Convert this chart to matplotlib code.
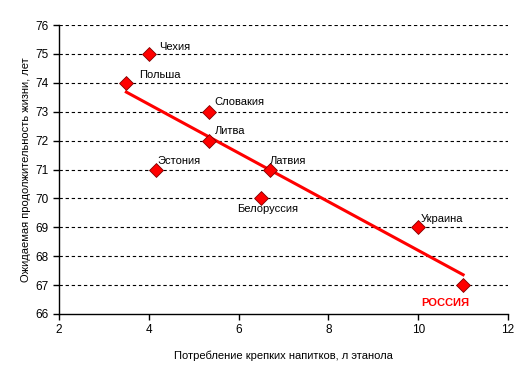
import matplotlib
matplotlib.use("Agg")
import matplotlib.pyplot as plt
import numpy as np

countries = ["Чехия", "Польша", "Словакия", "Литва", "Эстония", "Латвия", "Белоруссия", "Украина", "РОССИЯ"]
consumption = [4.0, 3.5, 5.35, 5.35, 4.15, 6.7, 6.5, 10.0, 11.0]
life_exp = [75, 74, 73, 72, 71, 71, 70, 69, 67]
xticks = [2, 4, 6, 8, 10, 12]
yticks = [66, 67, 68, 69, 70, 71, 72, 73, 74, 75, 76]

plt.rcParams['font.family'] = ['Liberation Sans', 'DejaVu Sans']
fig = plt.figure(figsize=(5.21, 3.78), dpi=100)
ax = fig.add_axes([59/521, 1-314/378, (508-59)/521, (314-25)/378])

ax.set_xlim(2, 12)
ax.set_ylim(66, 76)
ax.set_xticks(xticks)
ax.set_yticks(yticks)
for y in yticks[1:]:
    ax.axhline(y, color='black', lw=0.8, ls=(0, (3, 2.5)), zorder=1)

x = np.array(consumption)
y = np.array(life_exp)
k, b = np.polyfit(x, y, 1)
xl = np.array([x.min(), x.max()])
ax.plot(xl, k*xl + b, color='#FF0000', lw=2.2, zorder=2)
ax.scatter(x, y, marker='D', s=50, color='#FF0000', edgecolors='#800000', linewidths=0.6, zorder=3)

offsets = {
    "Чехия": (10, 7, 'left', 'normal', 'black'),
    "Польша": (13, 8, 'left', 'normal', 'black'),
    "Словакия": (5, 10, 'left', 'normal', 'black'),
    "Литва": (5, 10, 'left', 'normal', 'black'),
    "Эстония": (2, 8, 'left', 'normal', 'black'),
    "Латвия": (0, 8, 'left', 'normal', 'black'),
    "Белоруссия": (-24, -11, 'left', 'normal', 'black'),
    "Украина": (3, 8, 'left', 'normal', 'black'),
    "РОССИЯ": (-42, -18, 'left', 'bold', '#FF0000'),
}
for name, xi, yi in zip(countries, consumption, life_exp):
    dx, dy, ha, fw, c = offsets[name]
    ax.annotate(name, (xi, yi), xytext=(dx, dy), textcoords='offset pixels',
                ha=ha, va='center', fontsize=8, fontweight=fw, color=c)

for s in ['top', 'right']:
    ax.spines[s].set_visible(False)
for s in ['left', 'bottom']:
    ax.spines[s].set_linewidth(1.0)
ax.tick_params(direction='out', length=4, width=1, labelsize=8.5)
ax.set_xlabel("Потребление крепких напитков, л этанола", fontsize=8, labelpad=10)
ax.set_ylabel("Ожидаемая продолжительность жизни, лет", fontsize=8, labelpad=3)

fig.savefig("out.png", dpi=100)
